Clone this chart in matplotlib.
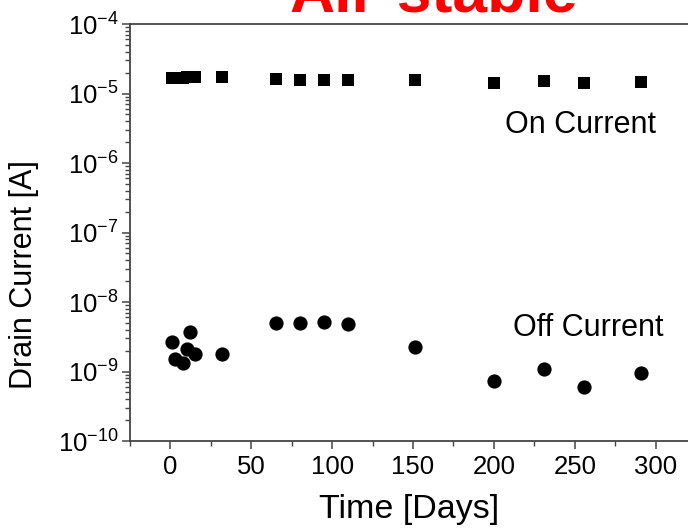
import numpy as np
import matplotlib
matplotlib.use('Agg')
import matplotlib.pyplot as plt
from matplotlib.ticker import LogLocator, MultipleLocator, LogFormatterSciNotation

plt.rcParams['font.family'] = ['Liberation Sans', 'DejaVu Sans']
plt.rcParams['mathtext.default'] = 'regular'

# On current (squares)
on_days = [1, 3, 8, 10, 12, 15, 32, 65, 80, 95, 110, 151, 200, 231, 256, 291]
on_current = [1.66e-5, 1.66e-5, 1.67e-5, 1.70e-5, 1.74e-5, 1.74e-5, 1.74e-5,
              1.62e-5, 1.57e-5, 1.57e-5, 1.57e-5, 1.57e-5, 1.43e-5, 1.51e-5,
              1.43e-5, 1.46e-5]

# Off current (circles)
off_days = [1, 3, 8, 10, 12, 15, 32, 65, 80, 95, 110, 151, 200, 231, 256, 291]
off_current = [2.65e-9, 1.50e-9, 1.31e-9, 2.09e-9, 3.66e-9, 1.77e-9, 1.80e-9,
               5.04e-9, 5.04e-9, 5.15e-9, 4.78e-9, 2.28e-9, 7.38e-10, 1.10e-9,
               5.93e-10, 9.42e-10]

xticks = [0, 50, 100, 150, 200, 250, 300]

fig = plt.figure(figsize=(6.88, 5.30), dpi=100)
ax = fig.add_axes([130/688, 89/530, 558/688, 417/530])

ax.scatter(on_days, on_current, marker='s', s=80, color='black', linewidths=0, zorder=3)
ax.scatter(off_days, off_current, marker='o', s=105, color='black', linewidths=0, zorder=3)

ax.set_yscale('log')
ax.set_ylim(1e-10, 1e-4)
ax.set_xlim(-25, 320)
ax.set_xticks(xticks)
ax.xaxis.set_minor_locator(MultipleLocator(25))
ax.yaxis.set_major_locator(LogLocator(base=10, numticks=10))
ax.yaxis.set_minor_locator(LogLocator(base=10, subs=np.arange(2, 10), numticks=20))
ax.yaxis.set_major_formatter(LogFormatterSciNotation())

for side in ['left', 'bottom', 'top']:
    ax.spines[side].set_color('#444444')
    ax.spines[side].set_linewidth(1.3)
ax.spines['right'].set_visible(False)

ax.tick_params(which='major', direction='out', length=6, width=1.1, color='#444444',
               labelsize=18.5, top=False, right=False)
ax.tick_params(which='minor', direction='out', length=3.5, width=1.0, color='#444444',
               top=False, right=False)
ax.tick_params(axis='y', which='major', pad=2)
ax.tick_params(axis='x', which='major', pad=4)

ax.set_xlabel('Time [Days]', fontsize=24.5, labelpad=11)
ax.set_ylabel('Drain Current [A]', fontsize=22)
ax.yaxis.set_label_coords(-0.163, 0.40)

ax.text(207, 2.70e-6, 'On Current', fontsize=22, va='baseline', ha='left')
ax.text(211.5, 3.24e-9, 'Off Current', fontsize=22, va='baseline', ha='left')

fig.text(434/688, 1 - 12/530, 'Air-stable', color='red', fontsize=45,
         fontweight='bold', ha='center', va='baseline')

fig.savefig('out.png', dpi=100)
